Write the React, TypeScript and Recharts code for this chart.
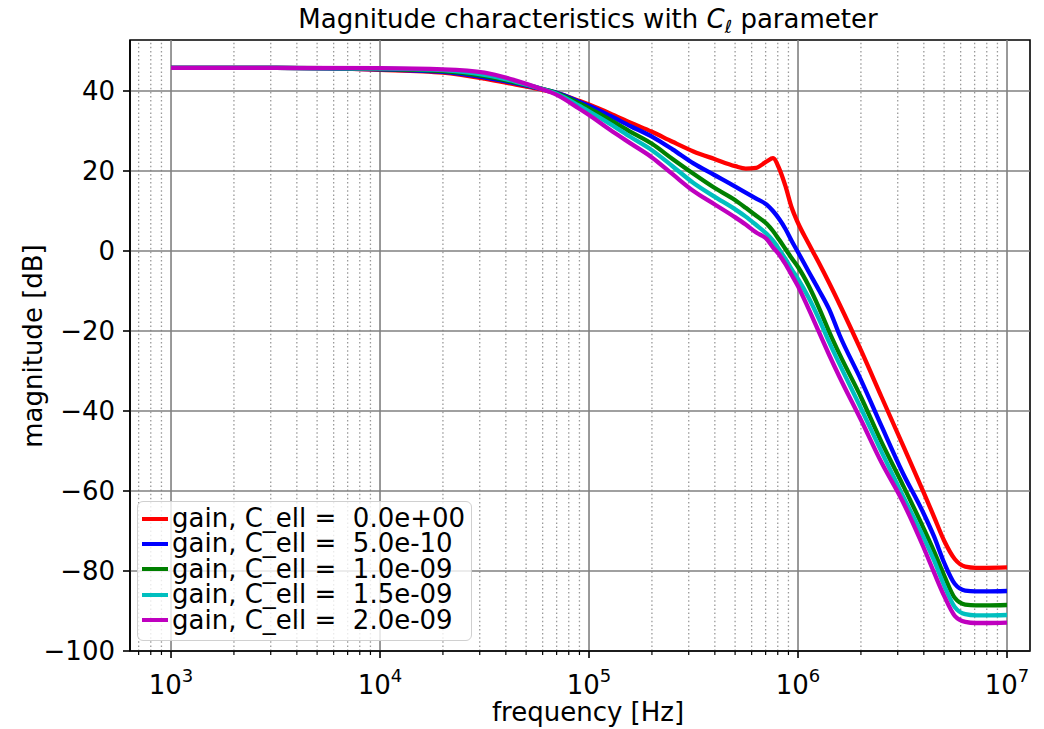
import React from 'react';
import { LineChart, Line, XAxis, YAxis, ReferenceLine, ReferenceArea } from 'recharts';

const FONT = '"DejaVu Sans", sans-serif';
const FS = 26;

// frequency points [Hz]
const FREQ = [
  1e3, 3.16e3, 1e4, 2e4, 3.16e4, 4.47e4, 5.62e4, 7.08e4, 8.91e4, 1e5,
  1.26e5, 1.58e5, 2e5, 2.51e5, 3.16e5, 3.98e5, 5.01e5, 5.62e5, 6.31e5, 7.08e5,
  7.59e5, 8.13e5, 8.71e5, 9.33e5, 1e6, 1.12e6, 1.26e6, 1.41e6, 1.58e6, 2e6,
  2.51e6, 3.16e6, 3.98e6, 4.47e6, 5.01e6, 5.62e6, 6.31e6, 7.08e6, 7.94e6, 1e7,
];

// gain [dB] for each C_ell
const GAIN_C0 = [
  45.8, 45.8, 45.3, 44.6, 43.1, 41.6, 40.6, 39.4, 37.6, 36.6,
  34.4, 32.1, 29.8, 27.3, 24.9, 23.0, 21.2, 20.6, 20.8, 22.4,
  23.2, 20.6, 16.2, 10.8, 7.0, 2.0, -3.0, -8.0, -13.3, -24.8,
  -36.5, -48.3, -60.2, -66.4, -72.5, -77.0, -78.9, -79.2, -79.2, -79.1,
];
const GAIN_C05 = [
  45.8, 45.8, 45.4, 44.8, 43.4, 41.9, 40.8, 39.5, 37.4, 36.3,
  33.8, 31.2, 28.6, 25.4, 21.9, 19.0, 16.1, 14.6, 13.1, 11.6,
  10.0, 8.0, 5.5, 2.5, -0.3, -5.0, -9.8, -14.6, -21.0, -32.2,
  -43.8, -55.3, -65.5, -71.3, -78.0, -83.2, -84.9, -85.1, -85.1, -85.0,
];
const GAIN_C10 = [
  45.8, 45.8, 45.5, 45.0, 43.7, 42.1, 40.9, 39.4, 37.0, 35.7,
  32.8, 29.8, 26.8, 23.0, 19.3, 15.8, 12.7, 10.8, 8.8, 6.8,
  5.0, 2.8, 0.5, -1.8, -4.0, -8.5, -14.2, -20.2, -25.8, -36.5,
  -47.8, -58.3, -69.2, -75.0, -81.2, -86.7, -88.4, -88.6, -88.6, -88.5,
];
const GAIN_C15 = [
  45.8, 45.8, 45.6, 45.2, 44.0, 42.3, 40.9, 39.2, 36.4, 34.9,
  31.8, 28.5, 25.2, 21.2, 17.0, 13.6, 10.4, 8.6, 6.5, 4.3,
  2.6, 0.4, -2.0, -4.6, -7.0, -11.5, -17.0, -22.8, -28.3, -39.3,
  -50.2, -61.0, -71.5, -77.3, -83.7, -89.0, -90.8, -91.1, -91.1, -91.0,
];
const GAIN_C20 = [
  45.8, 45.8, 45.7, 45.4, 44.6, 42.6, 40.9, 38.9, 35.7, 34.0,
  30.3, 26.9, 23.4, 19.2, 15.0, 11.7, 8.4, 6.6, 4.6, 3.0,
  0.9, -0.9, -3.3, -6.0, -8.8, -14.3, -20.3, -26.0, -31.5, -42.2,
  -52.9, -62.5, -74.0, -80.3, -86.3, -91.2, -92.7, -93.0, -93.0, -92.9,
];

const C_ELL_LABELS = ['0.0e+00', '5.0e-10', '1.0e-09', '1.5e-09', '2.0e-09'];
const COLORS = ['#ff0000', '#0000ff', '#008000', '#00bfbf', '#bf00bf'];
const KEYS = ['c0', 'c1', 'c2', 'c3', 'c4'];
const SERIES_VALUES = [GAIN_C0, GAIN_C05, GAIN_C10, GAIN_C15, GAIN_C20];

const X_MAJOR = [1e3, 1e4, 1e5, 1e6, 1e7];
const X_MAJOR_EXP = ['3', '4', '5', '6', '7'];
const X_MINOR = [
  700, 800, 900,
  2e3, 3e3, 4e3, 5e3, 6e3, 7e3, 8e3, 9e3,
  2e4, 3e4, 4e4, 5e4, 6e4, 7e4, 8e4, 9e4,
  2e5, 3e5, 4e5, 5e5, 6e5, 7e5, 8e5, 9e5,
  2e6, 3e6, 4e6, 5e6, 6e6, 7e6, 8e6, 9e6,
];
const X_ALL_TICKS = [...X_MINOR, ...X_MAJOR].sort((a, b) => a - b);
const Y_TICKS = [-100, -80, -60, -40, -20, 0, 20, 40];
const X_DOMAIN = [636.4, 1.2883e7];
const Y_DOMAIN = [-100, 52.75];

const data = FREQ.map((f, i) => {
  const row: any = { f };
  KEYS.forEach((k, j) => {
    row[k] = SERIES_VALUES[j][i];
  });
  return row;
});

const fmtY = (v: number) => (v < 0 ? '\u2212' + Math.abs(v) : String(v));

const X_TICK_SIZE = 7;
const XTick = (props: any) => {
  const { x, y, payload } = props;
  const v = payload.value;
  const axisY = y - X_TICK_SIZE;
  const mi = X_MAJOR.indexOf(v);
  const major = mi >= 0;
  return (
    <g>
      <line x1={x} x2={x} y1={axisY} y2={axisY + (major ? 7 : 4)} stroke="#000" strokeWidth={major ? 1.6 : 1.2} />
      {major && (
        <text x={x} y={axisY + 43} textAnchor="middle" fontSize={FS} fontFamily={FONT} fill="#000">
          10
          <tspan dy={-12} fontSize={18}>
            {X_MAJOR_EXP[mi]}
          </tspan>
        </text>
      )}
    </g>
  );
};

export default function App() {
  return (
    <div style={{ position: 'absolute', left: 0, top: 0, width: 1044, height: 729, background: '#fff', fontFamily: FONT }}>
      <LineChart width={1044} height={729} data={data} margin={{ top: 40, right: 14, bottom: 18, left: 50 }}>
        {X_MINOR.map((f) => (
          <ReferenceLine key={'mn' + f} x={f} stroke="#999999" strokeWidth={1.3} strokeDasharray="1.5 2.6" />
        ))}
        {X_MAJOR.map((f) => (
          <ReferenceLine key={'mj' + f} x={f} stroke="#808080" strokeWidth={1.6} />
        ))}
        {Y_TICKS.map((v) => (
          <ReferenceLine key={'y' + v} y={v} stroke="#808080" strokeWidth={1.6} />
        ))}
        <XAxis
          dataKey="f"
          type="number"
          scale="log"
          domain={X_DOMAIN}
          allowDataOverflow
          ticks={X_ALL_TICKS}
          interval={0}
          tick={<XTick />}
          tickLine={false}
          tickSize={X_TICK_SIZE}
          tickMargin={0}
          height={60}
          axisLine={{ stroke: '#000', strokeWidth: 1.6 }}
        />
        <YAxis
          type="number"
          domain={Y_DOMAIN}
          allowDataOverflow
          ticks={Y_TICKS}
          interval={0}
          width={80}
          tickSize={7}
          tickMargin={8}
          tickLine={{ stroke: '#000', strokeWidth: 1.6 }}
          axisLine={{ stroke: '#000', strokeWidth: 1.6 }}
          tick={{ fill: '#000', fontSize: FS, fontFamily: FONT }}
          tickFormatter={fmtY}
        />
        {KEYS.map((k, j) => (
          <Line
            key={k}
            dataKey={k}
            name={'gain, C_ell =  ' + C_ELL_LABELS[j]}
            type="monotone"
            stroke={COLORS[j]}
            strokeWidth={4.3}
            dot={false}
            activeDot={false}
            isAnimationActive={false}
          />
        ))}
        <ReferenceArea
          x1={X_DOMAIN[0]}
          x2={X_DOMAIN[1]}
          y1={Y_DOMAIN[0]}
          y2={Y_DOMAIN[1]}
          fill="none"
          fillOpacity={0}
          stroke="#000"
          strokeWidth={1.6}
          ifOverflow="visible"
        />
      </LineChart>

      {/* title */}
      <div style={{ position: 'absolute', left: 138, width: 900, top: 6, textAlign: 'center', fontSize: FS, lineHeight: FS + 'px', color: '#000', whiteSpace: 'nowrap' }}>
        Magnitude characteristics with <i>C</i>
        <span style={{ fontSize: 18, position: 'relative', top: 5 }}>ℓ</span> parameter
      </div>

      {/* x label */}
      <div style={{ position: 'absolute', left: 138, width: 900, top: 699, textAlign: 'center', fontSize: FS, lineHeight: FS + 'px', color: '#000', whiteSpace: 'nowrap' }}>
        frequency [Hz]
      </div>

      {/* y label */}
      <div style={{ position: 'absolute', left: 33, top: 346, transform: 'translate(-50%, -50%) rotate(-90deg)', fontSize: FS, lineHeight: FS + 'px', color: '#000', whiteSpace: 'nowrap' }}>
        magnitude [dB]
      </div>

      {/* legend */}
      <div
        style={{
          position: 'absolute',
          left: 137,
          top: 501,
          width: 335,
          height: 140,
          boxSizing: 'border-box',
          border: '1.6px solid #d0d0d0',
          borderRadius: 6,
          background: 'rgba(255,255,255,0.8)',
          paddingTop: 4,
          paddingLeft: 4,
        }}
      >
        {KEYS.map((k, j) => (
          <div key={k} style={{ display: 'flex', alignItems: 'center', height: 25.4 }}>
            <div style={{ width: 26, height: 4, background: COLORS[j] }} />
            <div style={{ marginLeft: 4, fontSize: FS, lineHeight: '25.4px', whiteSpace: 'pre', color: '#000' }}>
              {'gain, C_ell =  ' + C_ELL_LABELS[j]}
            </div>
          </div>
        ))}
      </div>
    </div>
  );
}
